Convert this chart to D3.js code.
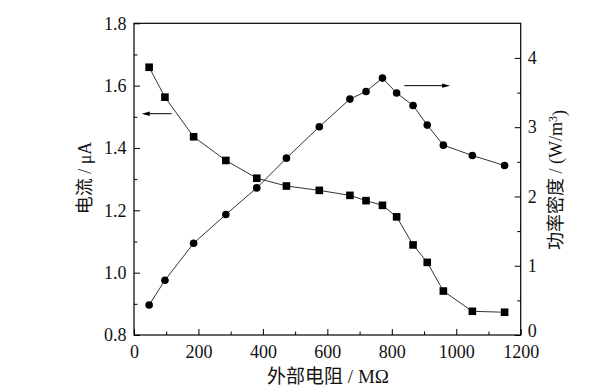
<!DOCTYPE html>
<html>
<head>
<meta charset="utf-8">
<script src="https://cdn.jsdelivr.net/npm/d3@7"></script>
<style>
  body { margin: 0; background: #fff; }
  svg text { font-family: "Liberation Serif", serif; fill: #111; }
  svg tspan.cjk { font-family: "Noto Sans CJK SC", sans-serif; }
  svg tspan.lat { font-family: "Liberation Serif", serif; }
</style>
</head>
<body>
<svg id="chart" width="612" height="387"></svg>
<script>
// data
const resistance = [47, 96, 185, 285, 381, 473, 575, 670, 720, 771, 815, 866, 910, 960, 1050, 1150];
const current = [1.659, 1.563, 1.436, 1.360, 1.303, 1.278, 1.264, 1.248, 1.231, 1.216, 1.179, 1.089, 1.033, 0.941, 0.876, 0.873];
const power = [0.434, 0.79, 1.325, 1.739, 2.124, 2.553, 3.006, 3.406, 3.516, 3.709, 3.493, 3.314, 3.03, 2.741, 2.591, 2.447];
const xTicks = [0, 200, 400, 600, 800, 1000, 1200];
const leftTicks = [0.8, 1.0, 1.2, 1.4, 1.6, 1.8];
const rightTicks = [0, 1, 2, 3, 4];
// arrows: [x start, x end, y value]
const leftArrow = [117, 24, 1.51];
const rightArrow = [839, 981, 3.6];

const plot = { left: 134, right: 520.7, top: 23.3, bottom: 335 };

const svg = d3.select('#chart');

const x = d3.scaleLinear().domain([0, 1200]).range([plot.left, plot.right]);
const yL = d3.scaleLinear().domain([0.8, 1.8]).range([plot.bottom, plot.top]);
const yR = d3.scaleLinear().domain([0, 4.5]).range([plot.bottom, plot.top]);

// minor ticks
svg.append('g')
  .attr('transform', `translate(0,${plot.bottom})`)
  .call(d3.axisBottom(x).tickValues(d3.range(100, 1200, 200)).tickSize(-3.5).tickFormat(''));
svg.append('g')
  .attr('transform', `translate(${plot.left},0)`)
  .call(d3.axisLeft(yL).tickValues(d3.range(0.9, 1.8, 0.2)).tickSize(-3.5).tickFormat(''));
svg.append('g')
  .attr('transform', `translate(${plot.right},0)`)
  .call(d3.axisRight(yR).tickValues([0.5, 1.5, 2.5, 3.5]).tickSize(-3.5).tickFormat(''));

// major axes
const xAxis = svg.append('g')
  .attr('transform', `translate(0,${plot.bottom})`)
  .call(d3.axisBottom(x).tickValues(xTicks).tickSize(-6).tickPadding(10).tickFormat(d3.format('d')));
const lAxis = svg.append('g')
  .attr('transform', `translate(${plot.left},0)`)
  .call(d3.axisLeft(yL).tickValues(leftTicks).tickSize(-6).tickPadding(7.5).tickFormat(d3.format('.1f')));
const rAxis = svg.append('g')
  .attr('transform', `translate(${plot.right},0)`)
  .call(d3.axisRight(yR).tickValues(rightTicks).tickSize(-6).tickPadding(7).tickFormat(d3.format('d')));

svg.selectAll('.domain').remove();
svg.selectAll('.tick line').attr('stroke', '#000').attr('stroke-width', 1);
[xAxis, lAxis, rAxis].forEach(a => a.selectAll('text')
  .style('font-size', '18px').attr('fill', '#111'));
// right-axis zero sits just above the "1200" label
rAxis.selectAll('text').filter(d => d === 0).attr('dy', '0.1em');

// frame
svg.append('rect')
  .attr('x', plot.left).attr('y', plot.top)
  .attr('width', plot.right - plot.left).attr('height', plot.bottom - plot.top)
  .attr('fill', 'none').attr('stroke', '#000').attr('stroke-width', 1.2);

// current series (squares)
const curLine = d3.line().x((d, i) => x(resistance[i])).y(d => yL(d));
svg.append('path').datum(current)
  .attr('d', curLine).attr('fill', 'none').attr('stroke', '#333').attr('stroke-width', 1);
svg.selectAll('.sq').data(current).enter().append('rect')
  .attr('class', 'sq')
  .attr('x', (d, i) => x(resistance[i]) - 3.8)
  .attr('y', d => yL(d) - 3.8)
  .attr('width', 7.6).attr('height', 7.6)
  .attr('fill', '#000');

// power series (circles)
const powLine = d3.line().x((d, i) => x(resistance[i])).y(d => yR(d));
svg.append('path').datum(power)
  .attr('d', powLine).attr('fill', 'none').attr('stroke', '#333').attr('stroke-width', 1);
svg.selectAll('.dot').data(power).enter().append('circle')
  .attr('class', 'dot')
  .attr('cx', (d, i) => x(resistance[i]))
  .attr('cy', d => yR(d))
  .attr('r', 3.8)
  .attr('fill', '#000');

// arrows
function arrow(x0, x1, yy) {
  const dir = x1 > x0 ? 1 : -1;
  svg.append('line')
    .attr('x1', x0).attr('x2', x1 - dir * 4).attr('y1', yy).attr('y2', yy)
    .attr('stroke', '#000').attr('stroke-width', 1);
  svg.append('path')
    .attr('d', `M${x1},${yy} L${x1 - dir * 8},${yy - 2.2} L${x1 - dir * 8},${yy + 2.2} Z`)
    .attr('fill', '#000');
}
arrow(x(leftArrow[0]), x(leftArrow[1]), yL(leftArrow[2]));
arrow(x(rightArrow[0]), x(rightArrow[1]), yR(rightArrow[2]));

// axis titles (CJK and Latin parts in separate tspans)
const xt = svg.append('text')
  .attr('x', 328).attr('y', 383)
  .attr('text-anchor', 'middle')
  .style('font-size', '19px');
xt.append('tspan').attr('class', 'cjk').text('外部电阻');
xt.append('tspan').attr('class', 'lat').text(' / MΩ');

const lt = svg.append('text')
  .attr('transform', 'translate(85,178) rotate(-90)')
  .attr('text-anchor', 'middle').attr('dy', '0.35em')
  .style('font-size', '18px');
lt.append('tspan').attr('class', 'cjk').text('电流');
lt.append('tspan').attr('class', 'lat').text(' / μA');

const rt = svg.append('text')
  .attr('transform', 'translate(556,180) rotate(-90)')
  .attr('text-anchor', 'middle').attr('dy', '0.35em')
  .style('font-size', '18px');
rt.append('tspan').attr('class', 'cjk').text('功率密度');
rt.append('tspan').attr('class', 'lat').text(' / (W/m');
rt.append('tspan').attr('class', 'lat').attr('dy', '-0.45em').style('font-size', '12px').text('3');
rt.append('tspan').attr('class', 'lat').attr('dy', '0.45em').text(')');
</script>
</body>
</html>
